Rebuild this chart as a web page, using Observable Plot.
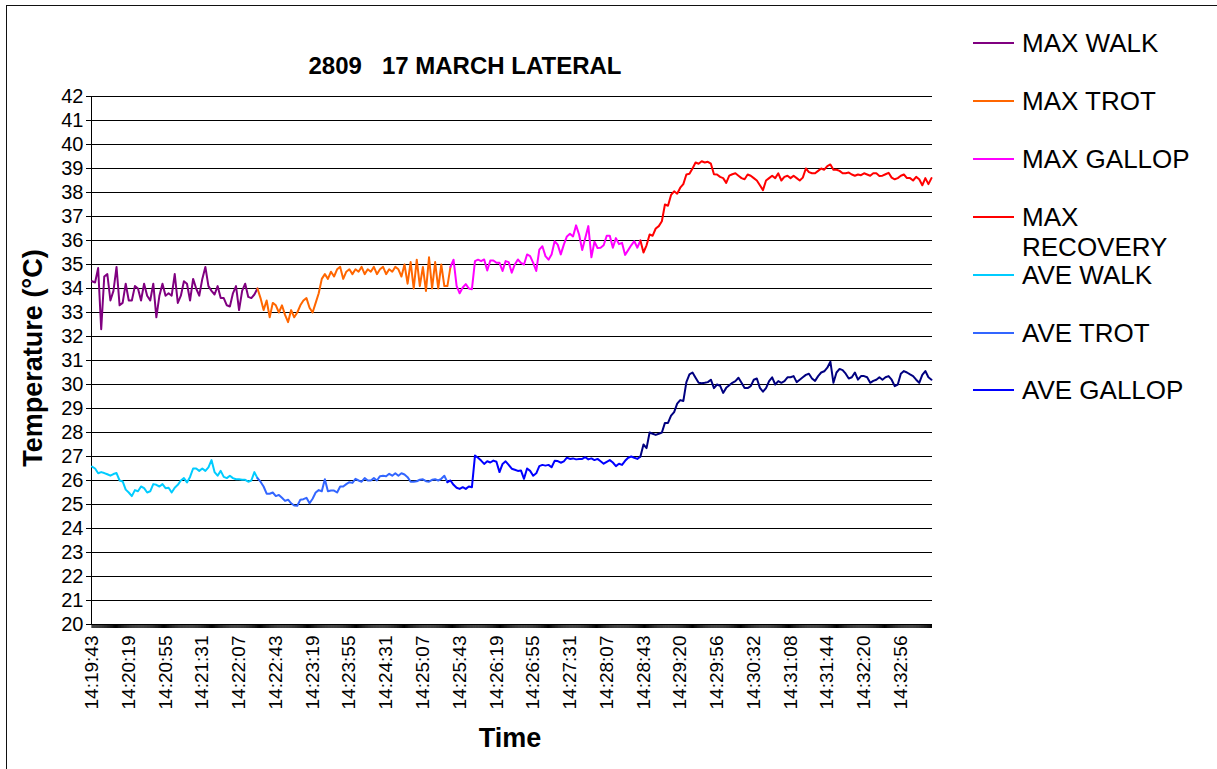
<!DOCTYPE html>
<html>
<head>
<meta charset="utf-8">
<script src="https://cdn.jsdelivr.net/npm/d3@7"></script>
<script src="https://cdn.jsdelivr.net/npm/@observablehq/plot@0.6"></script>
<style>
  html, body { margin: 0; padding: 0; background: #fff; overflow: hidden; }
  #wrap { position: relative; width: 1217px; height: 769px; font-family: "Liberation Sans", Arial, sans-serif; color: #000; }
  #frame { position: absolute; left: 6px; top: 5px; width: 1240px; height: 800px; border: 1px solid #111; box-sizing: border-box; }
  #chart { position: absolute; left: 0; top: 0; }
  .title { position: absolute; left: 215px; width: 500px; top: 52px; text-align: center; font-weight: bold; font-size: 24px; white-space: pre; }
  .ytitle { position: absolute; left: 33px; top: 358px; transform: translate(-50%, -50%) rotate(-90deg); font-weight: bold; font-size: 27px; white-space: nowrap; }
  .xtitle { position: absolute; left: 510px; top: 738px; transform: translate(-50%, -50%); font-weight: bold; font-size: 27px; white-space: nowrap; }
  .leg { position: absolute; left: 973px; font-size: 26px; line-height: 30px; }
  .leg .sw { position: absolute; left: 0; top: 14px; width: 41px; height: 2px; }
  .leg .tx { position: absolute; left: 49px; top: 0; white-space: pre; }
</style>
</head>
<body>
<div id="wrap">
  <div id="frame"></div>
  <div id="chart"></div>
  <div class="title" id="title"></div>
  <div class="ytitle" id="ytitle"></div>
  <div class="xtitle" id="xtitle"></div>
  <div id="legend"></div>
</div>
<script>
// ---------- DATA ----------
const chartTitle = "2809   17 MARCH LATERAL";
const yTitle = "Temperature (°C)";
const xTitle = "Time";

// time labels shown every 36 samples
const timeLabels = ["14:19:43","14:20:19","14:20:55","14:21:31","14:22:07","14:22:43","14:23:19","14:23:55","14:24:31","14:25:07","14:25:43","14:26:19","14:26:55","14:27:31","14:28:07","14:28:43","14:29:20","14:29:56","14:30:32","14:31:08","14:31:44","14:32:20","14:32:56"];
const labelEvery = 36;
const sampleCount = 823;
const yTicks = [20,21,22,23,24,25,26,27,28,29,30,31,32,33,34,35,36,37,38,39,40,41,42];

// readings: one value every 3 samples, starting at the given sample index
const STEP = 3;
const maxWalkStart = 0;
const maxWalk = [34.3,34.25,34.85,32.3,34.5,34.6,33.5,33.9,34.9,33.3,33.4,34.2,33.5,33.5,34.1,34.0,33.5,34.2,33.7,33.5,34.2,32.8,33.7,34.2,33.7,33.8,33.7,34.6,33.4,33.7,34.3,34.2,33.5,34.4,34.0,33.7,34.4,34.9,34.1,33.9,33.75,34.1,33.6,33.6,33.3,33.25,33.8,34.1,33.1,33.9,34.2,33.65,33.6,33.75,34.0];
const maxTrotStart = 162;
const maxTrot = [34.0,33.6,33.1,33.5,32.8,33.4,33.3,33.0,33.3,32.9,32.6,33.1,32.8,33.0,33.3,33.5,33.6,33.2,33.0,33.4,33.8,34.4,34.6,34.4,34.7,34.5,34.8,34.9,34.4,34.7,34.8,34.6,34.8,34.7,34.9,34.6,34.8,34.7,34.9,34.6,34.8,34.9,34.6,34.8,34.7,34.9,34.8,34.5,35.0,34.2,35.1,34.0,35.2,34.1,34.9,33.9,35.3,34.0,35.1,34.0,35.0,34.1,34.1,34.9];
const maxGallopStart = 351;
const maxGallop = [34.9,35.2,34.11,33.8,34.04,34.18,34.0,33.97,35.14,35.2,35.14,35.21,34.75,35.17,35.17,35.07,35.07,34.73,35.14,35.1,34.66,35.0,35.21,35.07,35.0,35.42,35.35,35.07,34.73,35.62,35.76,35.35,35.2,35.42,35.97,35.83,35.42,35.83,36.17,36.28,36.17,36.63,36.24,35.6,36.1,36.6,35.3,35.95,35.69,35.7,35.8,36.2,36.2,35.7,36.1,35.85,35.9,35.4,35.6,35.8,35.97,35.7,36.0];
const maxRecoveryStart = 537;
const maxRecovery = [36.0,35.5,35.8,36.25,36.2,36.5,36.6,36.8,37.5,37.45,37.9,38.05,37.95,38.2,38.35,38.75,38.78,39.0,39.25,39.2,39.3,39.25,39.28,39.2,38.76,38.75,38.65,38.6,38.4,38.7,38.76,38.8,38.7,38.6,38.55,38.75,38.7,38.6,38.5,38.3,38.1,38.5,38.6,38.7,38.6,38.8,38.5,38.65,38.7,38.6,38.7,38.6,38.5,38.62,39.0,38.85,38.8,38.8,38.9,39.0,38.95,39.1,39.17,38.95,38.95,38.9,38.8,38.8,38.83,38.75,38.7,38.75,38.72,38.8,38.75,38.7,38.8,38.8,38.69,38.7,38.76,38.82,38.62,38.55,38.6,38.7,38.75,38.6,38.6,38.5,38.65,38.55,38.3,38.6,38.35,38.6];
const aveWalkStart = 0;
const aveWalk = [26.58,26.5,26.3,26.35,26.31,26.26,26.2,26.27,26.31,26.0,25.96,25.62,25.5,25.35,25.6,25.55,25.75,25.68,25.5,25.55,25.85,25.82,25.75,25.85,25.68,25.7,25.5,25.7,25.82,26.0,26.1,25.92,26.15,26.5,26.5,26.4,26.5,26.4,26.55,26.85,26.35,26.2,26.4,26.15,26.1,26.2,26.1,26.05,26.05,26.03,26.03,25.95,26.0,26.35,26.1];
const aveTrotStart = 162;
const aveTrot = [26.1,25.95,25.75,25.45,25.45,25.5,25.35,25.4,25.28,25.15,25.2,25.05,24.96,24.95,25.2,25.22,25.28,25.05,25.24,25.5,25.6,25.55,26.05,25.55,25.58,25.58,25.5,25.75,25.75,25.85,25.93,25.9,26.07,26.0,25.95,26.1,26.0,26.0,26.1,26.0,26.18,26.2,26.18,26.28,26.2,26.3,26.2,26.3,26.25,26.14,25.95,25.95,25.97,26.03,26.05,25.97,25.95,26.03,26.05,26.0,26.07,26.2,25.93];
const aveGallopStart = 348;
const aveGallop = [25.93,26.0,25.82,25.7,25.65,25.72,25.65,25.75,25.72,27.04,26.95,26.83,26.69,26.8,26.75,26.83,26.78,26.35,26.69,26.8,26.65,26.49,26.45,26.4,26.42,26.07,26.5,26.4,26.2,26.3,26.6,26.65,26.62,26.65,26.55,26.82,26.81,26.74,26.8,26.95,26.9,26.92,26.88,26.9,26.9,26.97,26.88,26.92,26.85,26.9,26.8,26.7,26.78,26.85,26.75,26.6,26.7,26.65,26.82,26.95,27.0,26.95,26.9,27.0];
const aveRecoveryStart = 537;
const aveRecovery = [27.0,27.5,27.35,28.0,27.95,27.9,27.95,28.0,28.4,28.4,28.7,28.85,29.2,29.35,29.31,30.1,30.42,30.5,30.28,30.07,30.05,30.07,30.1,30.2,29.85,30.0,29.95,29.65,29.86,29.97,30.07,30.14,30.28,30.07,29.85,29.85,29.93,30.2,30.25,29.86,29.7,29.85,30.14,30.3,30.0,30.14,30.07,30.14,30.3,30.3,30.35,30.1,30.2,30.3,30.4,30.45,30.25,30.15,30.35,30.5,30.55,30.7,30.95,30.07,30.5,30.65,30.6,30.45,30.25,30.3,30.5,30.2,30.35,30.35,30.3,30.07,30.15,30.2,30.3,30.2,30.3,30.35,30.2,29.93,30.0,30.45,30.56,30.5,30.42,30.35,30.2,30.07,30.4,30.56,30.3,30.2];

const seriesNames = ["MAX WALK","MAX TROT","MAX GALLOP","MAX RECOVERY","AVE WALK","AVE TROT","AVE GALLOP","AVE RECOVERY"];
const seriesColors = ["#800080","#FF6600","#FF00FF","#FF0000","#00CCFF","#3366FF","#0000FF","#000080"];
const legendNames = ["MAX WALK","MAX TROT","MAX GALLOP","MAX\nRECOVERY","AVE WALK","AVE TROT","AVE GALLOP"];

// ---------- BUILD ----------
const seriesData = [
  [maxWalkStart, maxWalk], [maxTrotStart, maxTrot], [maxGallopStart, maxGallop], [maxRecoveryStart, maxRecovery],
  [aveWalkStart, aveWalk], [aveTrotStart, aveTrot], [aveGallopStart, aveGallop], [aveRecoveryStart, aveRecovery]
];
const rows = seriesData.flatMap(([start, vals], s) =>
  vals.map((v, i) => ({series: seriesNames[s], idx: start + i * STEP, value: v})));

const xTicks = d3.range(0, sampleCount);

const chart = Plot.plot({
  width: 1217,
  height: 769,
  marginLeft: 91,
  marginRight: 285,
  marginTop: 96,
  marginBottom: 145,
  style: {fontFamily: '"Liberation Sans", Arial, sans-serif', fontSize: "20px", color: "#000", background: "transparent"},
  x: {domain: [-0.5, sampleCount], axis: null},
  y: {domain: [yTicks[0], yTicks[yTicks.length - 1]], axis: null},
  color: {domain: seriesNames, range: seriesColors},
  marks: [
    Plot.ruleY(yTicks, {stroke: "#000", strokeWidth: 1}),
    Plot.frame({anchor: "left", stroke: "#000"}),
    Plot.axisY({ticks: yTicks, tickSize: 5, tickPadding: 3, label: null, fontSize: 20}),
    Plot.axisX({ticks: xTicks, tickSize: 4, tickPadding: 7, tickRotate: -90, label: null, fontSize: 19,
      tickFormat: i => (i % labelEvery === 0 && timeLabels[i / labelEvery]) ? timeLabels[i / labelEvery] : ""}),
    Plot.line(rows, {x: "idx", y: "value", z: "series", stroke: "series", strokeWidth: 2})
  ]
});
document.getElementById("chart").appendChild(chart);

document.getElementById("title").textContent = chartTitle;
document.getElementById("ytitle").textContent = yTitle;
document.getElementById("xtitle").textContent = xTitle;

// legend rows (centre of first text line)
const legendTops = [43, 101, 159, 217, 275, 333, 390];
const legend = document.getElementById("legend");
legendNames.forEach((name, i) => {
  const d = document.createElement("div");
  d.className = "leg";
  d.style.top = (legendTops[i] - 15) + "px";
  const sw = document.createElement("div");
  sw.className = "sw";
  sw.style.background = seriesColors[i];
  const tx = document.createElement("div");
  tx.className = "tx";
  tx.textContent = name;
  d.appendChild(sw); d.appendChild(tx);
  legend.appendChild(d);
});
</script>
</body>
</html>
